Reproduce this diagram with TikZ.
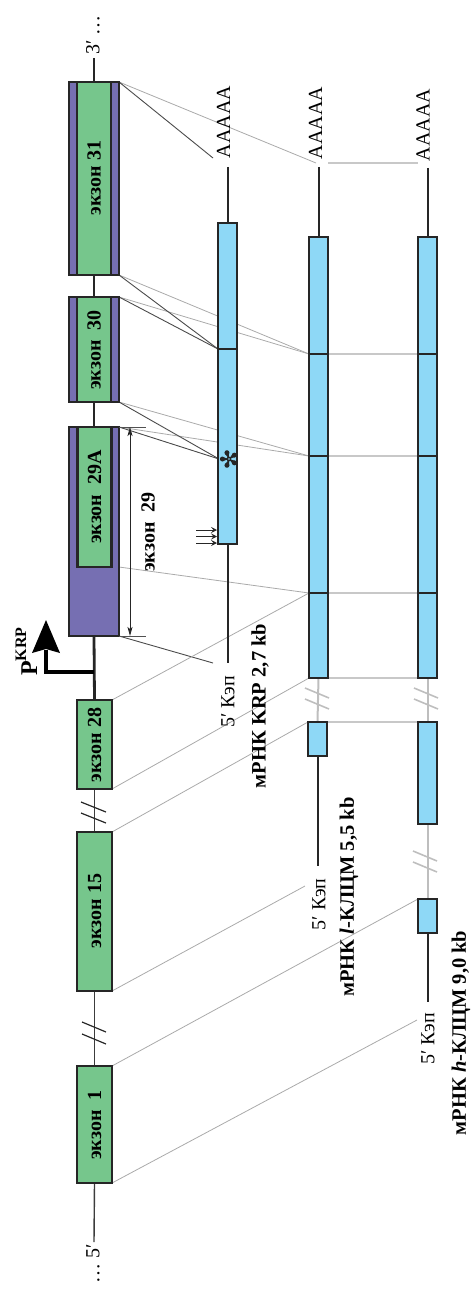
\documentclass[tikz,border=0pt]{standalone}
\usepackage{fontspec}
\setmainfont{Liberation Serif}
\usetikzlibrary{arrows.meta}
\definecolor{exgreen}{RGB}{118,198,140}
\definecolor{expurple}{RGB}{118,111,178}
\definecolor{rnablue}{RGB}{142,216,246}
\definecolor{dk}{RGB}{38,38,38}
\definecolor{prjdark}{RGB}{75,75,75}
\definecolor{prjlight}{RGB}{170,170,170}
\definecolor{hlight}{RGB}{200,200,200}
\definecolor{brk}{RGB}{190,190,190}
\pgfdeclarelayer{bg}
\pgfsetlayers{bg,main}
\begin{document}
\begin{tikzpicture}[x=1pt,y=-1pt,
  exouter/.style={draw=dk, line width=2.8pt, fill=expurple, inner sep=0, outer sep=0, minimum width=50pt},
  exinner/.style={draw=dk, line width=2.2pt, fill=exgreen, inner sep=0, outer sep=0, minimum width=34pt},
  exgreenbox/.style={draw=dk, line width=2.6pt, fill=exgreen, inner sep=0, outer sep=0, minimum width=35pt},
  rnabox/.style={draw=dk, line width=1.2pt, fill=rnablue, inner sep=0, outer sep=0, minimum width=19pt},
  exlabel/.style={rotate=90, inner sep=0, font=\fontsize{20}{20}\selectfont\bfseries},
  rnalabel/.style={rotate=90, inner sep=0, font=\fontsize{20.5}{20}\selectfont\bfseries},
  plain/.style={rotate=90, inner sep=0, font=\fontsize{20}{20}\selectfont},
  thickbb/.style={draw=dk, line width=2.8pt},
  thinbb/.style={draw=dk!90, line width=1.4pt},
  rnaline/.style={draw=dk, line width=2pt},
  rnagap/.style={draw=brk, line width=2pt},
  prjd/.style={draw=prjdark, line width=0.9pt},
  prjl/.style={draw=prjlight, line width=0.8pt},
  hconn/.style={draw=hlight, line width=1.3pt},
  brkmark/.style={draw=dk, line width=1.2pt},
  brkmarkl/.style={draw=brk, line width=1.6pt},
  dimline/.style={draw=dk, line width=0.9pt, {Stealth[length=9pt,width=5pt,inset=2pt]}-{Stealth[length=9pt,width=5pt,inset=2pt]}},
  tick/.style={draw=dk!80, line width=0.9pt},
  smallarr/.style={draw=dk, line width=0.9pt, -{Stealth[length=6pt,width=6pt,inset=2.5pt]}}
]
\useasboundingbox (0,0) rectangle (476,1289);

% ---------- gene exons ----------
\node[exouter, minimum height=193pt] (e31) at (94,178.5) {};
\node[exinner, minimum height=193pt] (e31i) at (94,178.5) {};
\node[exouter, minimum height=105pt] (e30) at (94,349.5) {};
\node[exinner, minimum height=105pt] (e30i) at (94,349.5) {};
\node[exouter, minimum height=209pt] (e29) at (94,531.5) {};
\node[exinner, minimum height=140pt] (e29a) at (94.5,497) {};
\node[exgreenbox, minimum height=89pt] (e28) at (94.5,744.5) {};
\node[exgreenbox, minimum height=159pt] (e15) at (94.5,911.5) {};
\node[exgreenbox, minimum height=117pt] (e1) at (94.5,1124.5) {};

\node[exlabel] (l31) at (94,178) {экзон 31};
\node[exlabel] (l30) at (94,350) {экзон\ \ 30};
\node[exlabel] (l29a) at (94.5,497) {экзон\ \ 29A};
\node[exlabel] (l28) at (94.5,745) {экзон 28};
\node[exlabel] (l15) at (94.5,911) {экзон 15};
\node[exlabel] (l1) at (94.5,1125) {экзон\ \ 1};

% ends of the gene
\node[plain] (g3) at (93,35) {3′ …};
\node[plain] (g5) at (93,1264) {… 5′};
\coordinate (bbtop) at (94,58);
\coordinate (bbbot) at (94,1242);

% ---------- mRNA boxes ----------
\node[rnabox, minimum height=126pt] (m1a) at (227.5,286) {};
\node[rnabox, minimum height=195pt] (m1b) at (227.5,446.5) {};

\node[rnabox, minimum height=117pt] (m2a) at (318.5,295.5) {};
\node[rnabox, minimum height=102pt] (m2b) at (318.5,405) {};
\node[rnabox, minimum height=137pt] (m2c) at (318.5,524.5) {};
\node[rnabox, minimum height=85pt] (m2d) at (318.5,635.5) {};
\node[rnabox, minimum height=34pt] (m2s) at (317.5,739) {};

\node[rnabox, minimum height=117pt] (m3a) at (427.5,295.5) {};
\node[rnabox, minimum height=102pt] (m3b) at (427.5,405) {};
\node[rnabox, minimum height=137pt] (m3c) at (427.5,524.5) {};
\node[rnabox, minimum height=85pt] (m3d) at (427.5,635.5) {};
\node[rnabox, minimum height=102pt] (m3e) at (427.5,773) {};
\node[rnabox, minimum height=34pt] (m3s) at (427.5,916) {};

% mRNA texts
\node[plain] (a1) at (223.5,122) {AAAAA};
\node[plain] (a2) at (315.5,123) {AAAAA};
\node[plain] (a3) at (423,125) {AAAAA};
\node[plain] (k1) at (228,702) {5′ Кэп};
\node[plain] (k2) at (319,904.5) {5′ Кэп};
\node[plain] (k3) at (428,1039) {5′ Кэп};
\node[rnalabel] (n1) at (260,706) {мРНК KRP 2,7 kb};
\node[rnalabel] (n2) at (349,897) {мРНК \textit{l}-КЛЦМ 5,5 kb};
\node[rnalabel] (n3) at (461,1033) {мРНК \textit{h}-КЛЦМ 9,0 kb};

% free ends
\coordinate (pA1) at (213,158);
\coordinate (pA2) at (316,163);
\coordinate (pB1) at (328,163);
\coordinate (pB2) at (418,163);
\coordinate (ast) at (229,459);
\coordinate (astL) at (219,459);
\coordinate (cap1) at (213,663);
\coordinate (cap2) at (305,886);
\coordinate (cap3) at (417,1020);
\coordinate (t1) at (227.5,167);
\coordinate (t2) at (318.5,167);
\coordinate (t3) at (427.5,168);
\coordinate (b1) at (227.5,663);
\coordinate (b2) at (317.5,866);
\coordinate (b3) at (427.5,1002);

\begin{pgfonlayer}{bg}
  % backbone
  \draw[thickbb] (bbtop) -- (e31.north);
  \draw[thickbb] (e31.south) -- (e30.north);
  \draw[thickbb] (e30.south) -- (e29.north);
  \draw[thickbb] (e29.south) -- (e28.north);
  \draw[thinbb] (e28.south) -- (e15.north);
  \draw[thinbb] (e15.south) -- (e1.north);
  \draw[thinbb] (e1.south) -- (bbbot);

  % projections
  \draw[prjl] (e31.north east) -- (pA2);
  \draw[prjd] (e31.north east) -- (pA1);
  \draw[prjl] (e31.south east) -- (m2a.south west);
  \draw[prjl] (e30.north east) -- (m2a.south west);
  \draw[prjd] (e31.south east) -- (m1a.south west);
  \draw[prjd] (e30.north east) -- (m1a.south west);
  \draw[prjl] (e30.south east) -- (m2b.south west);
  \draw[prjl] (e29.north east) -- (m2b.south west);
  \draw[prjd] (e30.south east) -- (astL);
  \draw[prjd] (e29.north east) -- (astL);
  \draw[prjl] (e29a.south -| e29.east) -- (m2c.south west);
  \draw[prjd] (e29.south east) -- (cap1);
  \draw[prjl] (e28.north east) -- (m2d.north west);
  \draw[prjl] (e28.south east) -- (m2d.south west);
  \draw[prjl] (e15.north east) -- (m2s.north west);
  \draw[prjl] (e15.south east) -- (cap2);
  \draw[prjl] (e1.north east) -- (m3s.north west);
  \draw[prjl] (e1.south east) -- (cap3);

  % horizontal links between mRNA 2 and 3
  \draw[hconn] (pB1) -- (pB2);
  \draw[hconn] (m2a.south east) -- (m3a.south west);
  \draw[hconn] (m2b.south east) -- (m3b.south west);
  \draw[hconn] (m2c.south east) -- (m3c.south west);
  \draw[hconn] (m2d.south east) -- (m3d.south west);
  \draw[hconn] (m2s.north east) -- (m3e.north west);

  % mRNA lines
  \draw[rnaline] (t1) -- (m1a.north);
  \draw[rnaline] (m1b.south) -- (b1);
  \draw[rnaline] (t2) -- (m2a.north);
  \draw[rnagap] (m2d.south) -- (m2s.north);
  \draw[rnaline] (m2s.south) -- (b2);
  \draw[rnaline] (t3) -- (m3a.north);
  \draw[rnagap] (m3d.south) -- (m3e.north);
  \draw[rnagap] (m3e.south) -- (m3s.north);
  \draw[rnaline] (m3s.south) -- (b3);
\end{pgfonlayer}

% break marks
\draw[brkmark] (81,802) -- (106,812);
\draw[brkmark] (81,813) -- (106,823);
\draw[brkmark] (82,1022) -- (106,1032);
\draw[brkmark] (82,1034) -- (106,1044);
\draw[brkmarkl] (305,688) -- (329,698);
\draw[brkmarkl] (305,699) -- (329,709);
\draw[brkmarkl] (414,688) -- (438,698);
\draw[brkmarkl] (414,699) -- (438,709);
\draw[brkmarkl] (413,851) -- (437,861);
\draw[brkmarkl] (413,862) -- (437,872);

% dimension exon 29
\coordinate (dimT) at (130,427);
\coordinate (dimB) at (130,636);
\draw[tick] (e29.north east) -- (146,427);
\draw[tick] (e29.south east) -- (146,636);
\draw[dimline] (dimT) -- (dimB);
\node[exlabel] (l29) at (148,532) {экзон\ \ 29};

% asterisk
\foreach \ang in {36,108,180,252,324} {
  \fill[dk] (ast) -- ++(\ang-17:6.8pt) -- ++(\ang+90:4.2pt) -- cycle;
  \fill[dk] (ast) ++(\ang:6.6pt) circle (2.5pt);
}
\fill[dk] (ast) circle (2.4pt);
\fill[rnablue] (ast) circle (0.9pt);

% small arrows
\coordinate (sa1) at (196,530);
\coordinate (sa2) at (196,536.5);
\coordinate (sa3) at (196,543);
\coordinate (sb1) at (217,530);
\coordinate (sb2) at (217,536.5);
\coordinate (sb3) at (217,543);
\draw[smallarr] (sa1) -- (sb1);
\draw[smallarr] (sa2) -- (sb2);
\draw[smallarr] (sa3) -- (sb3);

% promoter
\coordinate (pr) at (94,672);
\coordinate (prc) at (46,672);
\coordinate (prs) at (46,650);
\coordinate (prt) at (46,620);
\draw[draw=black, line width=3.8pt] (pr) -- (prc) -- (prs);
\fill[black] (prt) -- ++(-14,33) -- ++(14,-4) -- ++(14,4) -- cycle;
\node[rotate=90, inner sep=0, anchor=base west] (plab) at (37,676)
  {\fontsize{24}{24}\selectfont\bfseries P\raisebox{11pt}{\fontsize{16}{16}\selectfont KRP}};
\end{tikzpicture}
\end{document}
